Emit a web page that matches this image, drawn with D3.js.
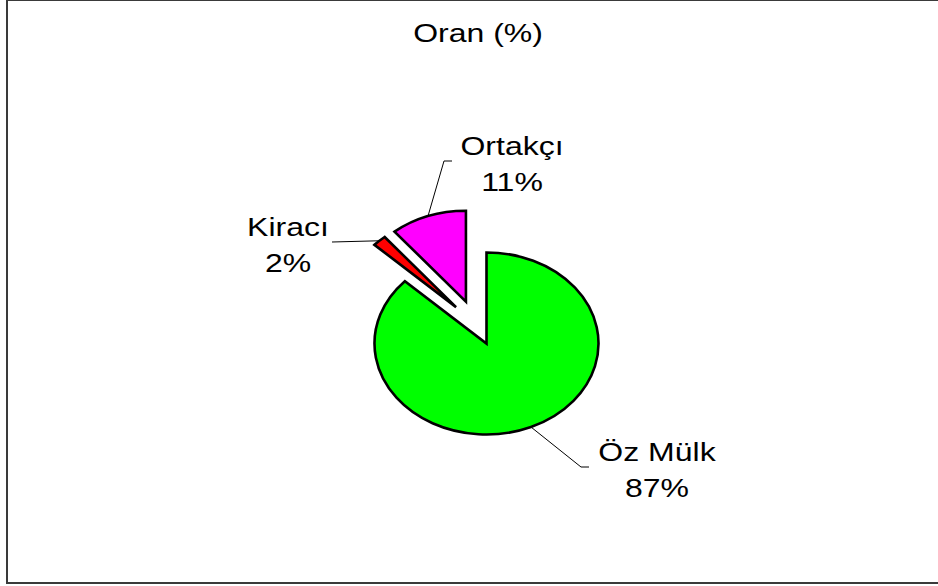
<!DOCTYPE html>
<html>
<head>
<meta charset="utf-8">
<script src="https://cdn.jsdelivr.net/npm/d3@7"></script>
<style>
  body { margin: 0; background: #fff; }
  text { font-family: "Liberation Sans", Arial, sans-serif; fill: #000; }
</style>
</head>
<body>
<div id="chart"></div>
<script>
const title = "Oran (%)";
const categories = ["Öz Mülk", "Kiracı", "Ortakçı"];
const values = [87, 2, 11];
const percentLabels = ["87%", "2%", "11%"];
const colors = ["#00ff00", "#ff0000", "#ff00ff"];

const width = 938;
const height = 586;

// the original picture is stretched sideways, so draw in a squeezed space
const sx = 112 / 91;
const center = { x: 486.5 / sx, y: 343.5 };
const radius = 91;
const explode = [0, 44, 45];
const explodeTilt = [0, 9, -2]; // degrees, nudges the explode direction

// label block centres (screen px)
const labelPos = [
  { x: 657, y: 467, side: "left" },
  { x: 288, y: 242, side: "right" },
  { x: 512, y: 161, side: "left" },
];
const labelHalfWidth = [60, 41, 52];

const svg = d3
  .select("#chart")
  .append("svg")
  .attr("width", width)
  .attr("height", height);

svg
  .append("rect")
  .attr("x", 7)
  .attr("y", 0)
  .attr("width", 1000)
  .attr("height", 583)
  .attr("fill", "none")
  .attr("stroke", "#3a3a3a")
  .attr("stroke-width", 2);

const pie = d3
  .pie()
  .sort(null)
  .value((d) => d);

const arcs = pie(values);

const arc = d3.arc().innerRadius(0).outerRadius(radius);
const edgeArc = d3.arc().innerRadius(radius).outerRadius(radius);

const offset = (d, i) => {
  const mid = (d.startAngle + d.endAngle) / 2 + (explodeTilt[i] * Math.PI) / 180;
  return [
    center.x + Math.sin(mid) * explode[i],
    center.y - Math.cos(mid) * explode[i],
  ];
};

const pieGroup = svg.append("g").attr("transform", `scale(${sx},1)`);

pieGroup
  .selectAll("path")
  .data(arcs)
  .join("path")
  .attr("transform", (d, i) => `translate(${offset(d, i)})`)
  .attr("d", arc)
  .attr("fill", (d, i) => colors[i])
  .attr("stroke", "#000")
  .attr("stroke-width", 2.6)
  .attr("stroke-linejoin", "miter")
  .attr("vector-effect", "non-scaling-stroke");

// leader lines
svg
  .selectAll(".leader")
  .data(arcs)
  .join("polyline")
  .attr("class", "leader")
  .attr("fill", "none")
  .attr("stroke", "#000")
  .attr("stroke-width", 1)
  .attr("points", (d, i) => {
    const [ox, oy] = offset(d, i);
    const [cx, cy] = edgeArc.centroid(d);
    const start = [(ox + cx) * sx, oy + cy];
    const lp = labelPos[i];
    const endX =
      lp.side === "left"
        ? lp.x - labelHalfWidth[i] - 8
        : lp.x + labelHalfWidth[i] + 3;
    const elbowX = lp.side === "left" ? endX - 8 : endX;
    return [start, [elbowX, lp.y], [endX, lp.y]].map((p) => p.join(",")).join(" ");
  });

const labels = svg
  .selectAll(".label")
  .data(arcs)
  .join("g")
  .attr("class", "label")
  .attr("transform", (d, i) => `translate(${labelPos[i].x},${labelPos[i].y}) scale(${sx},1)`);

labels
  .append("text")
  .attr("text-anchor", "middle")
  .attr("y", -6)
  .attr("font-size", 26)
  .text((d, i) => categories[i]);

labels
  .append("text")
  .attr("text-anchor", "middle")
  .attr("y", 30)
  .attr("font-size", 26)
  .text((d, i) => percentLabels[i]);

svg
  .append("text")
  .attr("transform", `translate(478,42) scale(${sx},1)`)
  .attr("text-anchor", "middle")
  .attr("font-size", 26)
  .text(title);
</script>
</body>
</html>
